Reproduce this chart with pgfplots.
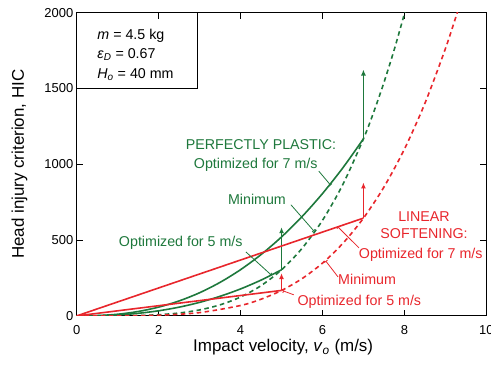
\documentclass[border=0pt]{standalone}
\usepackage{fontspec}
\setmainfont{Liberation Sans}
\usepackage{pgfplots}
\pgfplotsset{compat=1.18}
\usetikzlibrary{arrows.meta}
\definecolor{pgreen}{RGB}{30,120,60}
\definecolor{lred}{RGB}{232,38,44}
\begin{document}
\begin{tikzpicture}
\begin{axis}[
  scale only axis, width=409.3bp, height=303bp,
  xmin=0, xmax=10, ymin=0, ymax=2000,
  xtick={0,2,4,6,8,10}, ytick={0,500,1000,1500,2000},
  tick align=inside, major tick length=6bp,
  axis line style={line width=1bp},
  every tick/.style={black, line width=1bp},
  tick label style={font=\fontsize{13}{15}\selectfont},
  /pgf/number format/assume math mode=true,
  /pgf/number format/1000 sep={},
  xticklabel style={yshift=-6bp},
  xlabel={Impact velocity, \textit{v}\textsubscript{\textit{o}} (m/s)},
  ylabel={Head injury criterion, HIC},
  label style={font=\fontsize{17}{20}\selectfont},
  xlabel style={at={(axis description cs:0.504,-0.103)},anchor=center},
  ylabel style={at={(axis description cs:-0.14,0.5)},anchor=center},
  clip=true,
]
% Perfectly plastic: minimum
\addplot[pgreen, line width=1.6bp, dash pattern=on 4.5bp off 3.5bp, smooth] coordinates {
(0,0) (0.5,0.03) (1,0.49) (1.5,2.46) (2,7.78) (2.5,19.0) (3,39.4) (3.5,73.0) (4,124.5) (4.5,199.5) (5,304) (5.5,445.1) (6,630.4) (6.5,868.3) (7,1167.9) (7.25,1343.8) (7.5,1539.0) (7.75,1754.7) (8,1992.3) (8.01,2002.3)};
% Perfectly plastic: optimized for 7 m/s
\addplot[pgreen, line width=1.6bp, smooth] coordinates {
(0,0) (0.5,2.1) (1,10.9) (1.5,29.0) (2,57.8) (2.5,98.7) (3,152.8) (3.5,221.3) (4,304.9) (4.5,404.5) (5,520.9) (5.5,654.7) (6,806.8) (6.5,977.7) (7,1168)};
\addplot[pgreen, line width=1.6bp, -{Latex[length=6bp,width=5bp]}] coordinates {(7,1168) (7,1625)};
% Perfectly plastic: optimized for 5 m/s
\addplot[pgreen, line width=1.6bp, smooth] coordinates {
(0,0) (0.5,1.2) (1,6.4) (1.5,16.9) (2,33.7) (2.5,57.6) (3,89.2) (3.5,129.2) (4,177.9) (4.5,236.1) (5,304)};
\addplot[pgreen, line width=1.6bp, -{Latex[length=6bp,width=5bp]}] coordinates {(5,304) (5,585)};
% Linear softening: minimum
\addplot[lred, line width=1.6bp, dash pattern=on 4.5bp off 3.5bp, smooth] coordinates {
(0,0) (1,0.27) (2,4.3) (3,21.7) (4,68.7) (4.5,110.1) (5,167.8) (5.5,245.7) (6,348.0) (6.5,479.3) (7,644.7) (7.5,849.5) (8,1099.8) (8.5,1401.6) (9,1761.6) (9.3,2008.5)};
% Linear softening: optimized for 7 m/s
\addplot[lred, line width=1.6bp] coordinates {(0,0) (7,645)};
\addplot[lred, line width=1.6bp, -{Latex[length=6bp,width=5bp]}] coordinates {(7,645) (7,880)};
% Linear softening: optimized for 5 m/s
\addplot[lred, line width=1.6bp] coordinates {(0,0) (5,168)};
\addplot[lred, line width=1.6bp, -{Latex[length=6bp,width=5bp]}] coordinates {(5,168) (5,282)};

% annotations
\def\af{\fontsize{14.3}{17}\selectfont}
\node[pgreen, font=\af] at (axis cs:4.5,1129) {PERFECTLY PLASTIC:};
\node[pgreen, font=\af] at (axis cs:4.37,997) {Optimized for 7 m/s};
\draw[pgreen, line width=0.8bp, -{Bar[width=4bp]}] (axis cs:5.91,955) -- (axis cs:6.2,862);
\node[pgreen, font=\af] at (axis cs:4.40,766) {Minimum};
\draw[pgreen, line width=0.8bp, -{Bar[width=4bp]}] (axis cs:5.23,733) -- (axis cs:5.79,560);
\node[pgreen, font=\af] at (axis cs:2.54,482) {Optimized for 5 m/s};
\draw[pgreen, line width=0.8bp, -{Bar[width=4bp]}] (axis cs:4.13,422) -- (axis cs:4.74,272);

\node[lred, font=\af] at (axis cs:8.48,654) {LINEAR};
\node[lred, font=\af] at (axis cs:8.48,541) {SOFTENING:};
\node[lred, font=\af] at (axis cs:8.4,403) {Optimized for 7 m/s};
\draw[lred, line width=0.8bp, -{Bar[width=4bp]}] (axis cs:6.89,449) -- (axis cs:6.38,586);
\node[lred, font=\af] at (axis cs:7.09,238) {Minimum};
\draw[lred, line width=0.8bp, -{Bar[width=4bp]}] (axis cs:6.38,257) -- (axis cs:6.08,362);
\node[lred, font=\af] at (axis cs:6.9,93) {Optimized for 5 m/s};
\draw[lred, line width=0.8bp, -{Bar[width=4bp]}] (axis cs:5.3,139) -- (axis cs:5.04,165);

% parameter box
\draw[line width=1bp] (axis cs:0,1503) rectangle (axis cs:2.96,2000);
\node[font=\af, anchor=base west, inner sep=0pt] at (axis cs:0.5,1825) {\textit{m} = 4.5 kg};
\node[font=\af, anchor=base west, inner sep=0pt] at (axis cs:0.5,1699) {\textit{ε}\textsubscript{\textit{D}} = 0.67};
\node[font=\af, anchor=base west, inner sep=0pt] at (axis cs:0.5,1567) {\textit{H}\textsubscript{\textit{o}} = 40 mm};

\coordinate (SW) at (rel axis cs:0,0);
\coordinate (NE) at (rel axis cs:1,1);
\end{axis}
\pgfresetboundingbox
\useasboundingbox ([shift={(-76.7bp,-51.3bp)}]SW) rectangle ([shift={(4.7bp,12.7bp)}]NE);
\end{tikzpicture}
\end{document}
